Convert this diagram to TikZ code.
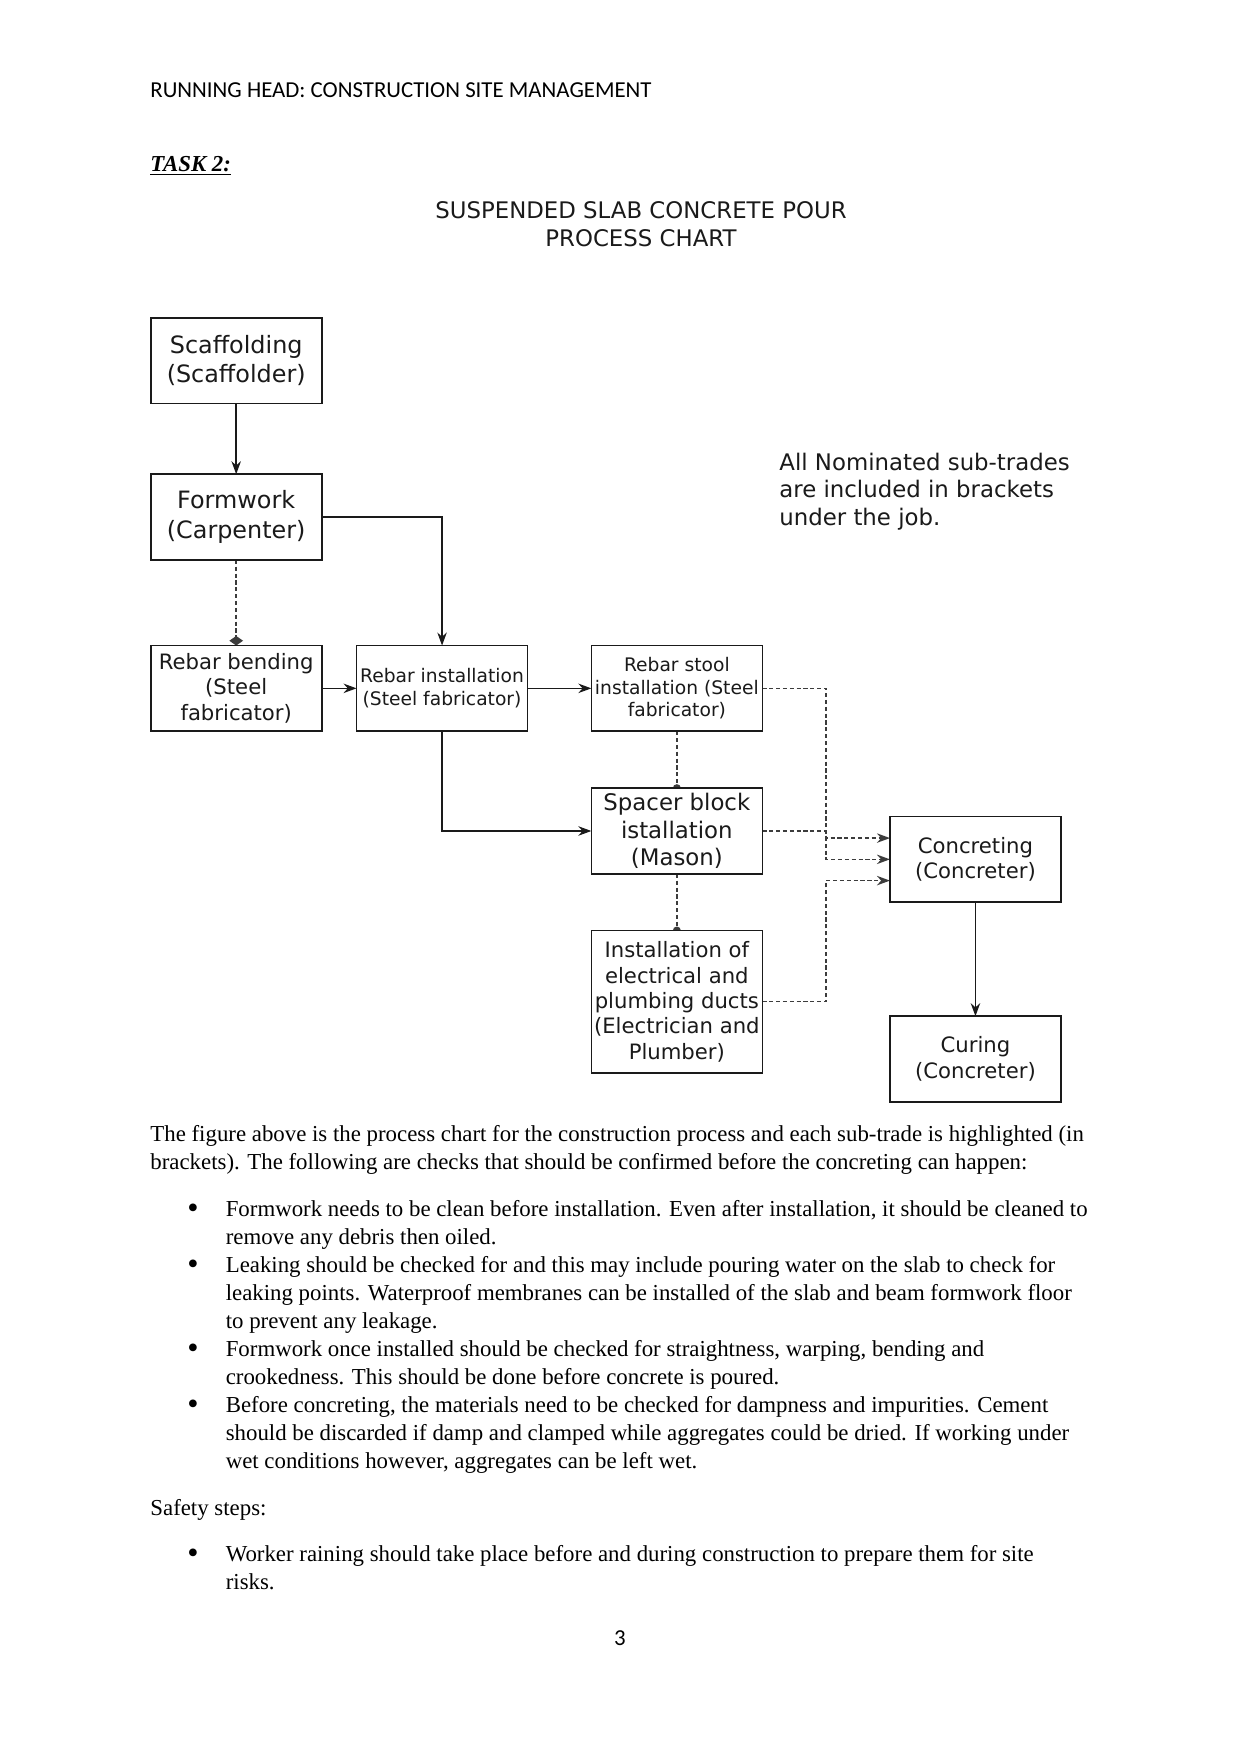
\documentclass[tikz,border=0pt]{standalone}
\usepackage{fontspec}
\setmainfont{Liberation Serif}
\newfontfamily\chartfont{DejaVu Sans}
\newfontfamily\headfont{Carlito}
\usetikzlibrary{arrows.meta,positioning,backgrounds}
\definecolor{ink}{HTML}{1A1A1A}
\newcommand\listdot{\raisebox{-0.9pt}{\fontsize{15.5}{13.5}\selectfont\textbullet}}
\tikzset{
  >=Stealth,
  box/.style={draw=ink,line width=0.8pt,fill=white,outer sep=0pt,minimum width=28.95mm,minimum height=14.5mm,align=center,inner sep=1pt,text=ink,font=\chartfont\fontsize{10.2}{12.2}\selectfont},
  bigbox/.style={box,font=\chartfont\fontsize{11.5}{14.2}\selectfont},
  smallbox/.style={box,font=\chartfont\fontsize{9}{10.9}\selectfont},
  arrow/.style={-{Stealth[length=2.2mm,width=1.6mm]},line width=0.7pt,draw=ink},
  dashline/.style={line width=0.75pt,draw=ink!85,dash pattern=on 2pt off 1.3pt},
  dasharrow/.style={dashline,-{Stealth[length=2.2mm,width=1.6mm]}},
  dotarrow/.style={dashline,-{Circle[length=3.8pt]},shorten >=-1.9pt},
  diamondarrow/.style={dashline,-{Diamond[length=4.6pt,width=6.6pt]}},
  body/.style={font=\fontsize{11}{13.5}\selectfont,inner sep=0pt,anchor=north west},
  note/.style={font=\chartfont\fontsize{11}{13.2}\selectfont,align=left,inner sep=0pt,anchor=north west,text=ink},
  head/.style={font=\headfont\fontsize{11}{13}\selectfont,inner sep=0pt},
}
\begin{document}
\begin{tikzpicture}[x=0.1693mm,y=-0.1693mm]
\useasboundingbox (0,0) rectangle (1241,1754);

% page head
\node[head,anchor=base west] (runhead) at (150,97.5) {RUNNING HEAD: CONSTRUCTION SITE MANAGEMENT};
\node[font=\bfseries\itshape\fontsize{11}{13}\selectfont,anchor=base west,inner sep=0pt] (task) at (150,171.4) {\underline{TASK 2:}};
\node[font=\chartfont\fontsize{11}{13.4}\selectfont,align=center,inner sep=0pt,text=ink] (title) at (641,224) {SUSPENDED SLAB CONCRETE POUR\\PROCESS CHART};

% process chart
\node[bigbox] (scaf) at (236.2,360.5) {Scaffolding\\(Scaffolder)};
\node[bigbox,below=12mm of scaf] (form) {Formwork\\(Carpenter)};
\node[box,below=14.5mm of form] (bend) {Rebar bending\\(Steel\\fabricator)};
\node[smallbox,right=5.9mm of bend] (inst) {Rebar installation\\(Steel fabricator)};
\node[smallbox,right=10.8mm of inst] (stool) {Rebar stool\\installation (Steel\\fabricator)};
\node[bigbox,font=\chartfont\fontsize{11}{13.3}\selectfont,below=9.65mm of stool] (spacer) {Spacer block\\istallation\\(Mason)};
\node[box,minimum height=24.1mm,below=9.6mm of spacer] (ducts) {Installation of\\electrical and\\plumbing ducts\\(Electrician and\\Plumber)};
\node[box,right=21.6mm of spacer,yshift=-4.8mm] (conc) {Concreting\\(Concreter)};
\node[box,below=19.3mm of conc] (cure) {Curing\\(Concreter)};

\node[note] (subtrades) at (779,450.8) {\strut All Nominated sub-trades\\are included in brackets\\under the job.};

\coordinate (merge) at ([xshift=10.8mm]stool.east);

\begin{scope}[on background layer]
\fill[white] (0,0) rectangle (1241,1754);
\draw[arrow] (scaf) -- (form);
\draw[arrow] (form.east) -| (inst.north);
\draw[diamondarrow] (form) -- (bend);
\draw[arrow] (bend) -- (inst);
\draw[arrow] (inst) -- (stool);
\draw[arrow] (inst.south) |- (spacer.west);
\draw[dotarrow] (stool) -- (spacer);
\draw[dotarrow] (spacer) -- (ducts);
\draw[dasharrow] (stool.east) -- (merge) |- (conc.west);
\draw[dasharrow] (spacer.east) -- (spacer.east -| merge) |- ([yshift=3.6mm]conc.west);
\draw[dasharrow] (ducts.east) -- (ducts.east -| merge) |- ([yshift=-3.6mm]conc.west);
\draw[arrow] (conc) -- (cure);
\end{scope}

% text below the chart
\node[body] (intro) at (150,1121.3) {\begin{tabular}{@{}l@{}}
The figure above is the process chart for the construction process and each sub-trade is highlighted (in\\
brackets). The following are checks that should be confirmed before the concreting can happen:
\end{tabular}};
\node[body,below=3.03mm of intro.south west,anchor=north west,xshift=6.26mm] (checks) {\begin{tabular}{@{}p{18.5pt}@{}l@{}}
\listdot & Formwork needs to be clean before installation. Even after installation, it should be cleaned to\\
 & remove any debris then oiled.\\
\listdot & Leaking should be checked for and this may include pouring water on the slab to check for\\
 & leaking points. Waterproof membranes can be installed of the slab and beam formwork floor\\
 & to prevent any leakage.\\
\listdot & Formwork once installed should be checked for straightness, warping, bending and\\
 & crookedness. This should be done before concrete is poured.\\
\listdot & Before concreting, the materials need to be checked for dampness and impurities. Cement\\
 & should be discarded if damp and clamped while aggregates could be dried. If working under\\
 & wet conditions however, aggregates can be left wet.
\end{tabular}};
\node[body,below=3.03mm of checks.south west,anchor=north west,xshift=-6.26mm] (safety) {\begin{tabular}{@{}l@{}}Safety steps:\end{tabular}};
\node[body,below=3.03mm of safety.south west,anchor=north west,xshift=6.26mm] (steps) {\begin{tabular}{@{}p{18.5pt}@{}l@{}}
\listdot & Worker raining should take place before and during construction to prepare them for site\\
 & risks.
\end{tabular}};

\node[head,anchor=base] (pageno) at (620,1645) {3};
\end{tikzpicture}
\end{document}
